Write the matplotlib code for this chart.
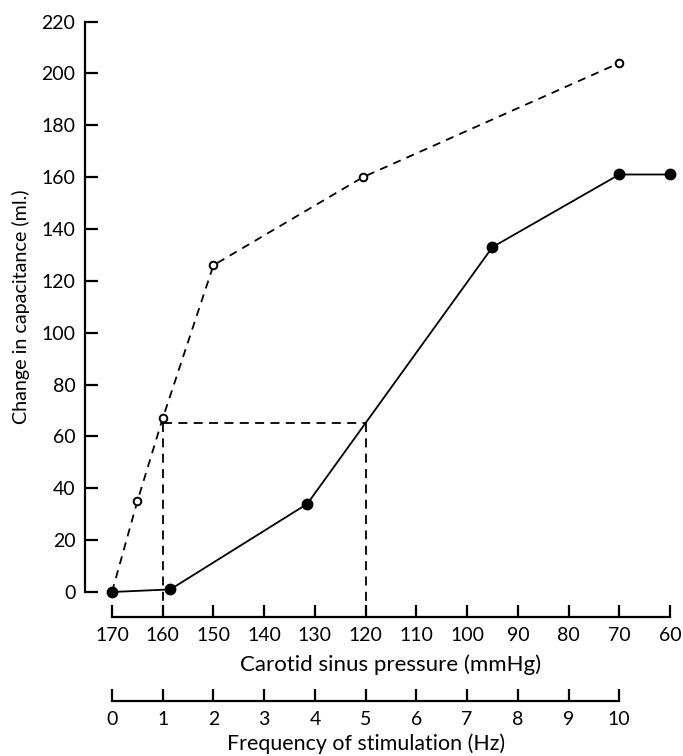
import numpy as np
import matplotlib.pyplot as plt
from matplotlib.transforms import blended_transform_factory

# Datos
presion_llena = [170, 158.5, 131.5, 95, 70, 60]
capac_llena = [0, 1, 34, 133, 161, 161]

presion_abierta = [165, 160, 150, 120.5, 70]
capac_abierta = [35, 67, 126, 160, 204]
# la curva discontinua arranca en el primer punto de la serie llena
presion_disc = [170] + presion_abierta
capac_disc = [0] + capac_abierta

guia_presion = [160, 120]
guia_capac = 65

ticks_presion = list(range(170, 50, -10))
ticks_frec = list(range(0, 11))

plt.rcParams['font.family'] = ['Lato', 'DejaVu Sans']

W, H = 683, 756
fig = plt.figure(figsize=(W / 100, H / 100), dpi=100)

# posiciones en píxeles
x_izq, x_der = 85, 672
y_sup, y_eje, y_frec = 20, 617, 701
ax = fig.add_axes([x_izq / W, 1 - y_eje / H, (x_der - x_izq) / W, (y_eje - y_sup) / H])

px_por_mmhg = (670 - 112) / 110
px_por_ml = (592 - 21.5) / 220
ax.set_xlim(170 + (112 - x_izq) / px_por_mmhg, 170 - (x_der - 112) / px_por_mmhg)
ax.set_ylim(-(y_eje - 592) / px_por_ml, 220 + (21.5 - y_sup) / px_por_ml)

# curvas
ax.plot(presion_disc, capac_disc, color='black', lw=1.3, ls=(0, (4.5, 3.5)), zorder=2)
ax.plot(presion_abierta, capac_abierta, 'o', ms=5.5, mfc='white', mec='black', mew=1.4,
        zorder=3, clip_on=False)
ax.plot(presion_llena, capac_llena, '-o', color='black', lw=1.3, ms=7.5, zorder=4,
        clip_on=False)

# líneas guía
estilo_guia = dict(color='black', lw=1.3, ls=(0, (5, 3.5)), zorder=1)
ax.plot(guia_presion, [guia_capac, guia_capac], **estilo_guia)
ax.plot([guia_presion[0], guia_presion[0]], [guia_capac, ax.get_ylim()[0]], **estilo_guia)
ax.plot([guia_presion[1], guia_presion[1]], [guia_capac, -5], **estilo_guia)

for s in ['top', 'right']:
    ax.spines[s].set_visible(False)
ax.spines['left'].set_bounds(0, 220)
ax.spines['bottom'].set_bounds(170, 60)
for s in ['left', 'bottom']:
    ax.spines[s].set_linewidth(1.6)

ax.set_yticks(range(0, 221, 20))
ax.set_xticks(ticks_presion)
ax.tick_params(axis='y', direction='in', length=9, width=1.6, pad=7, labelsize=14)
ax.tick_params(axis='x', direction='in', length=9, width=1.6, pad=7, labelsize=14)

ax.set_ylabel('Change in capacitance (ml.)', fontsize=14.2, va='center')
ax.yaxis.set_label_coords(21 / W, 110, transform=blended_transform_factory(fig.transFigure, ax.transData))
ax.set_xlabel('Carotid sinus pressure (mmHg)', fontsize=16, va='center')
ax.xaxis.set_label_coords(115, 1 - 665 / H, transform=blended_transform_factory(ax.transData, fig.transFigure))

# eje de frecuencia
ax2 = fig.add_axes([x_izq / W, 1 - y_frec / H, (x_der - x_izq) / W, 0.001])
f_izq = (170 - ax.get_xlim()[0]) / 10
f_der = (170 - ax.get_xlim()[1]) / 10
ax2.set_xlim(f_izq, f_der)
ax2.patch.set_visible(False)
for s in ['top', 'right', 'left']:
    ax2.spines[s].set_visible(False)
ax2.spines['bottom'].set_bounds(0, 10)
ax2.spines['bottom'].set_linewidth(1.6)
ax2.set_yticks([])
ax2.set_xticks(ticks_frec)
ax2.tick_params(axis='x', direction='in', length=9, width=1.6, pad=7, labelsize=14)
ax2.set_xlabel('Frequency of stimulation (Hz)', fontsize=15.4, va='center')
ax2.xaxis.set_label_coords(5, 1 - 744 / H, transform=blended_transform_factory(ax2.transData, fig.transFigure))

fig.savefig('out.png', dpi=100)
